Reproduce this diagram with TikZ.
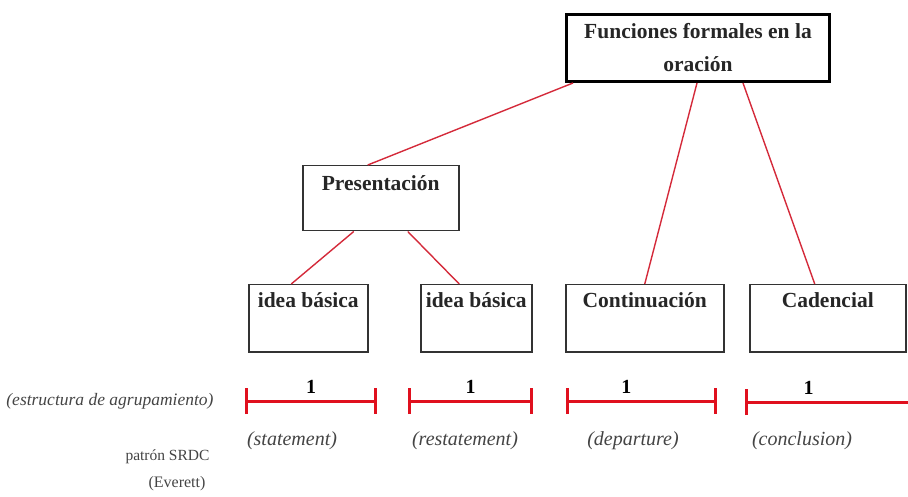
\documentclass[tikz,border=0pt]{standalone}
\usepackage{fontspec}
\setmainfont{Liberation Serif}
\usepackage{xcolor}
\usepackage{tikz}
\usetikzlibrary{arrows.meta}

\definecolor{linkred}{HTML}{D42A3A}
\definecolor{barred}{HTML}{E0101E}
\definecolor{boxgray}{HTML}{333333}
\definecolor{notegray}{HTML}{444444}

\tikzset{
  box/.style={draw=boxgray, line width=1.5pt, inner xsep=0pt, inner ysep=0pt,
    anchor=north west, text=black!85, font=\bfseries\fontsize{21.5}{26}\selectfont},
  unit/.style={box, text height=23pt, text depth=44pt},
  link/.style={draw=linkred, line width=1.4pt},
  span/.style={draw=barred, line width=3pt},
  role/.style={anchor=base, text=notegray, font=\itshape\fontsize{20}{24}\selectfont}
}

\begin{document}
\begin{tikzpicture}[x=1pt,y=-1pt]
    \useasboundingbox (0,0) rectangle (908,497);
    \node [box, draw=black, line width=3pt, align=center, minimum width=263pt, minimum height=67pt,
      font=\bfseries\fontsize{21.5}{33}\selectfont] (top) at (565,13) {Funciones formales en la\\oración};
    \node [box, minimum width=156pt, text height=25pt, text depth=40pt] (pres) at (302,165) {Presentación};
    \node [unit, minimum width=119pt] (idea1) at (248,284) {idea básica};
    \node [unit, minimum width=111pt] (idea2) at (420,284) {idea básica};
    \node [unit, minimum width=158pt] (cont) at (565,284) {Continuación};
    \node [unit, minimum width=156pt] (cad) at (749,284) {Cadencial};

    \draw [link] ([xshift=8pt]top.south west) -- ([xshift=-13pt]pres.north);
    \draw [link] ([xshift=132pt]top.south west) -- (cont.north);
    \draw [link] ([xshift=178pt]top.south west) -- ([xshift=-13pt]cad.north);
    \draw [link] ([xshift=-27pt]pres.south) -- ([xshift=-17pt]idea1.north);
    \draw [link] ([xshift=27pt]pres.south) -- ([xshift=-17pt]idea2.north);

    % grouping bars
    \draw [span, {Bar[width=26pt]}-{Bar[width=26pt]}] (245,401) -- node[above=3pt, font=\bfseries\fontsize{20}{24}\selectfont, text=black] (n1) {1} (377,401);
    \draw [span, {Bar[width=26pt]}-{Bar[width=26pt]}] (408,401) -- node[above=3pt, font=\bfseries\fontsize{20}{24}\selectfont, text=black] (n2) {1} (533,401);
    \draw [span, {Bar[width=26pt]}-{Bar[width=26pt]}] (566,401) -- node[above=3pt, pos=0.4, font=\bfseries\fontsize{20}{24}\selectfont, text=black] (n3) {1} (717,401);
    \draw [span, {Bar[width=26pt]}-] (745,402) -- node[above=3pt, pos=0.39, font=\bfseries\fontsize{20}{24}\selectfont, text=black] (n4) {1} (908,402);

    \node [role] (s) at (292,445) {(statement)};
    \node [role] (r) at (465,445) {(restatement)};
    \node [role] (d) at (633,445) {(departure)};
    \node [role] (c) at (802,445) {(conclusion)};

    \node [anchor=base east, font=\itshape\fontsize{17.5}{21}\selectfont, text=notegray] (grp) at (217,405) {(estructura de agrupamiento)};
    \node [anchor=base east, font=\fontsize{15.5}{19}\selectfont, text=notegray] (srdc) at (213,460) {patrón SRDC};
    \node [anchor=base, font=\fontsize{16}{19}\selectfont, text=notegray] (ev) at (177,487) {(Everett)};
\end{tikzpicture}
\end{document}
